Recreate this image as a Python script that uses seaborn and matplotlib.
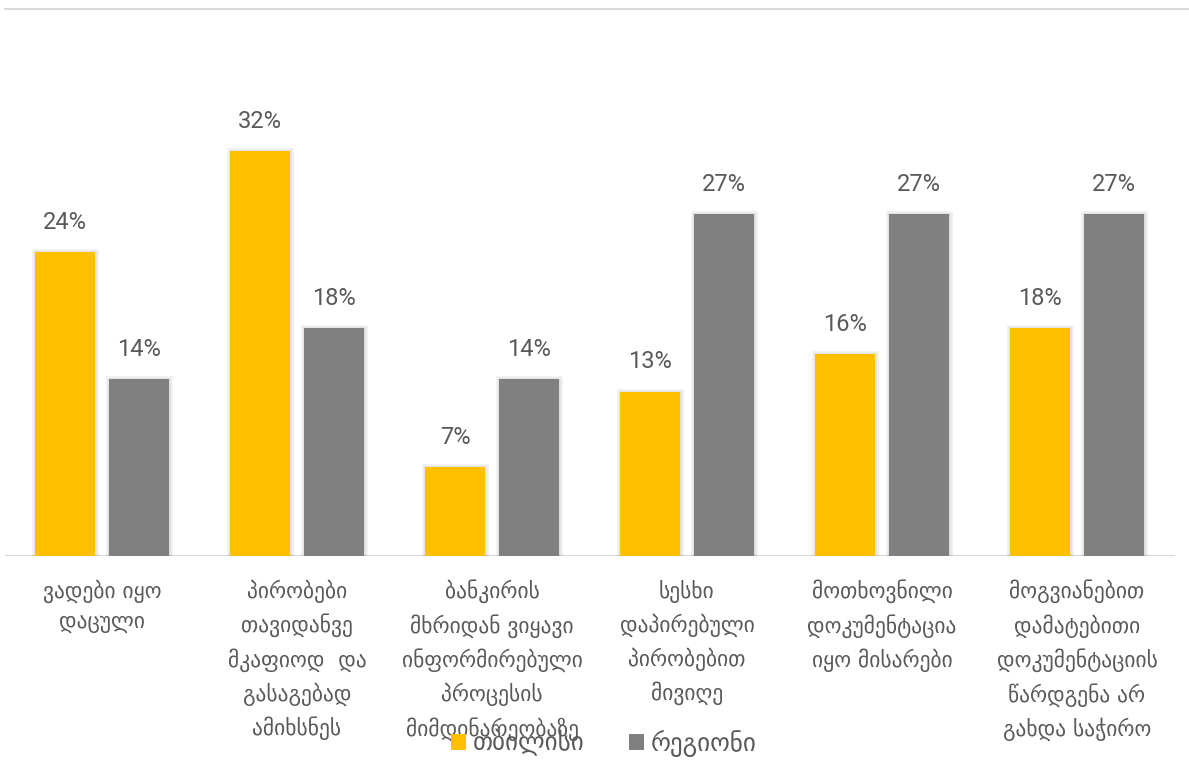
import matplotlib
matplotlib.use("Agg")
import matplotlib.pyplot as plt
import matplotlib.patheffects as pe
from matplotlib.lines import Line2D
from matplotlib.patches import Patch
import seaborn as sns
import pandas as pd

# Survey statements (Georgian), one per category
categories = [
    "ვადები იყო\nდაცული",
    "პირობები\nთავიდანვე\nმკაფიოდ  და\nგასაგებად\nამიხსნეს",
    "ბანკირის\nმხრიდან ვიყავი\nინფორმირებული\nპროცესის\nმიმდინარეობაზე",
    "სესხი\nდაპირებული\nპირობებით\nმივიღე",
    "მოთხოვნილი\nდოკუმენტაცია\nიყო მისარები",
    "მოგვიანებით\nდამატებითი\nდოკუმენტაციის\nწარდგენა არ\nგახდა საჭირო",
]
series_names = ["თბილისი", "რეგიონი"]
tbilisi = [24, 32, 7, 13, 16, 18]
regions = [14, 18, 14, 27, 27, 27]
colors = ["#FFC000", "#808080"]

df = pd.DataFrame({
    "category": categories * 2,
    "group": [series_names[0]] * len(categories) + [series_names[1]] * len(categories),
    "value": tbilisi + regions,
})

sns.set_theme(style="white")
plt.rcParams["font.family"] = ["DejaVu Sans"]

W, H = 1189, 771
fig = plt.figure(figsize=(W / 100, H / 100), dpi=100)
ax = fig.add_axes([4.5 / W, (H - 556) / H, 1170 / W, 506 / H])

sns.barplot(
    data=df, x="category", y="value", hue="group", order=categories,
    hue_order=series_names, palette=colors, width=0.759, gap=0.176,
    saturation=1, legend=False, ax=ax,
)

text_color = "#595959"
for bar in ax.patches:
    bar.set_linewidth(0)
    bar.set_path_effects([
        pe.Stroke(linewidth=5, foreground="#000000", alpha=0.05),
        pe.Stroke(linewidth=2.5, foreground="#000000", alpha=0.06),
        pe.Normal(),
    ])

for cont, vals in zip(ax.containers, [tbilisi, regions]):
    ax.bar_label(cont, labels=[f"{v}%" for v in vals], padding=13,
                 fontsize=17, color=text_color, family=["Roboto", "DejaVu Sans"])

ax.set_xlim(-0.5, len(categories) - 0.5)
ax.set_ylim(0, 40)
ax.set_xlabel("")
ax.set_ylabel("")
ax.set_yticks([])
for s in ax.spines.values():
    s.set_visible(False)
ax.axhline(0, color="#D9D9D9", lw=1.6, zorder=0.5)

ax.tick_params(axis="x", length=0, pad=17)
for lbl in ax.get_xticklabels():
    lbl.set_fontsize(15.5)
    lbl.set_color(text_color)
    lbl.set_linespacing(1.58)
    lbl.set_verticalalignment("top")

# thin frame line along the top edge
fig.add_artist(Line2D([5 / W, 1.0], [1 - 8.5 / H, 1 - 8.5 / H],
                      color="#D9D9D9", lw=1.5, transform=fig.transFigure))

handles = [Patch(facecolor=c, edgecolor="none") for c in colors]
fig.legend(handles, series_names, loc="center", bbox_to_anchor=(604 / W, 1 - 743 / H),
           ncol=2, frameon=False, fontsize=18, handlelength=0.6, handleheight=0.6,
           handletextpad=0.25, columnspacing=1.8, labelcolor=text_color)

fig.savefig("out.png", dpi=100, facecolor="white")
